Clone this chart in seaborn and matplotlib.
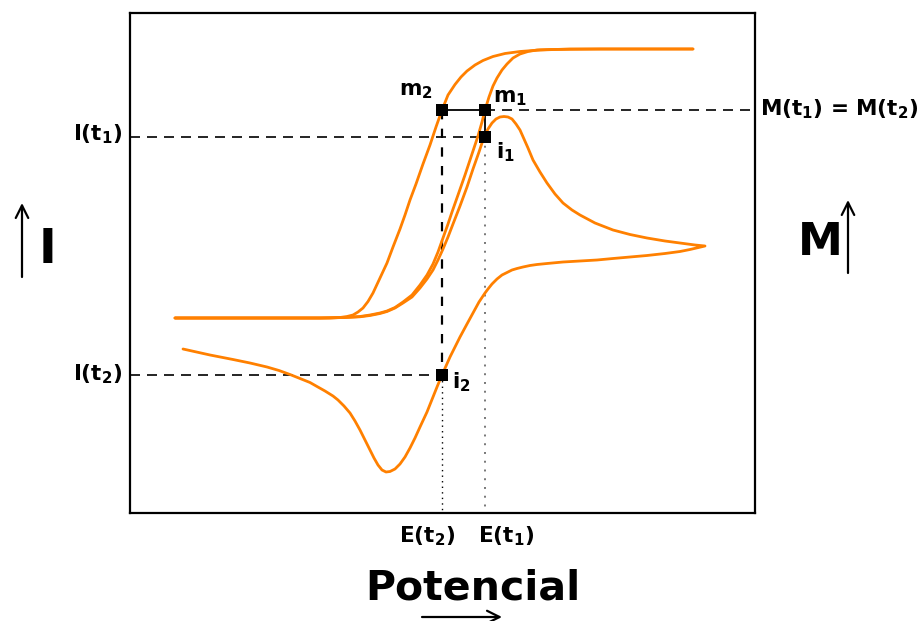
import matplotlib
matplotlib.use("Agg")
import matplotlib.pyplot as plt
import seaborn as sns

# ---------------- data (arbitrary units: potential E, current I, mass M) ----------------
sig_left_E = [45, 130, 200, 210, 217, 223, 228, 233, 238, 243,
              250, 257, 263, 270, 275, 280, 286, 293, 300, 306,
              312, 318, 325, 331, 337, 345, 353, 363, 375, 390,
              410, 440, 563]
sig_left_M = [195, 195, 195, 195.5, 196.5, 198, 201, 205, 211.5, 220,
              235, 250, 266, 284, 298, 313, 329, 349, 368, 386,
              403, 418, 428.5, 436, 442, 448, 452.5, 456.5, 459.5, 461.5,
              463, 464, 464]

sig_right_E = [45, 190, 215, 230, 240, 250, 257, 265, 273, 282,
               290, 297, 303, 308, 313, 318, 322, 328, 335, 341,
               348, 352, 355, 359, 363, 367, 372, 377, 383, 390,
               398, 407, 420, 470, 563]
sig_right_M = [195, 195, 195.5, 196.5, 198, 200, 202, 205.5, 211, 218,
               228, 238, 249, 261, 275, 289, 301, 318, 338, 356,
               377, 391, 403, 416, 427, 435, 443, 449, 455, 459,
               461.5, 463, 463.5, 464, 464]

cv_fwd_E = [45, 190, 215, 230, 240, 250, 257, 265, 273, 282,
            290, 297, 303, 308, 313, 318, 323, 330, 337, 343,
            349, 354, 358, 362, 366, 370, 374, 378, 382, 386,
            390, 394, 398, 403, 410, 417, 425, 433, 442, 450,
            465, 483, 500, 517, 535, 550, 565, 575]
cv_fwd_I = [195, 195, 195.5, 196.2, 197.5, 199.5, 201.5, 205, 210, 216,
            225, 234, 243, 253, 264, 276, 289, 307, 326, 344,
            361, 376, 384, 390, 394, 396, 396.5, 396, 394, 389,
            383, 374, 365, 353, 341, 330, 319, 310, 303, 298,
            290, 283, 278.5, 275, 272, 270, 268, 267]

cv_rev_E = [575, 560, 550, 535, 517, 500, 483, 467, 450, 433,
            417, 407, 400, 393, 387, 382, 377, 372, 367, 362,
            358, 355, 349, 343, 337, 330, 325, 320, 316, 312,
            307, 303, 297, 290, 285, 280, 275, 270, 265, 260,
            256, 252, 248, 244, 240, 235, 230, 225, 220, 214,
            208, 203, 195, 187, 180, 170, 160, 149, 137, 120,
            103, 80, 53]
cv_rev_I = [267, 263.5, 261.5, 259.5, 257.5, 256, 254.5, 253, 252, 251,
            249.5, 248.5, 247.5, 246, 244.5, 243, 240.5, 238, 234, 229,
            224, 220, 211, 200, 189, 176, 166, 156, 147, 138,
            126, 116, 101, 86, 75, 65, 56, 49, 44, 41.5,
            41, 43, 48, 55, 63, 73, 83, 92, 100, 107,
            113, 117, 122, 126.5, 130.5, 134.5, 138.5, 142.5, 146, 150,
            153.5, 158, 164]

E_t1, E_t2 = 355, 312
I_t1, I_t2 = 376, 138
M_t = 403

E_MAX, Y_MAX = 625, 500.5

# ---------------- style ----------------
sns.set_style("white")
plt.rcParams["font.family"] = ["DejaVu Sans"]
plt.rcParams["font.weight"] = "bold"
plt.rcParams["mathtext.fontset"] = "dejavusans"
plt.rcParams["mathtext.default"] = "bf"
plt.rcParams["text.color"] = "black"

ORANGE = "#FF8000"
W, H = 924, 621

fig = plt.figure(figsize=(W / 100, H / 100), dpi=100)
ax = fig.add_axes([130 / W, 1 - 513 / H, 625 / W, 500.5 / H])
ax.set_xlim(0, E_MAX)
ax.set_ylim(0, Y_MAX)

# curves
for xs, ys in [(sig_left_E, sig_left_M), (sig_right_E, sig_right_M),
               (cv_fwd_E + cv_rev_E[1:], cv_fwd_I + cv_rev_I[1:])]:
    sns.lineplot(x=xs, y=ys, sort=False, estimator=None, color=ORANGE, lw=2.0, ax=ax, zorder=3)

# guide lines
dash = dict(color="black", lw=1.2, dashes=(6, 4.2), zorder=2)
ax.plot([0, E_t1], [I_t1, I_t1], **dash)
ax.plot([0, E_t2], [I_t2, I_t2], **dash)
ax.plot([E_t1, E_MAX], [M_t, M_t], **dash)
ax.plot([E_t2, E_t2], [M_t, I_t2], color="black", lw=1.6, dashes=(4.2, 4.2), zorder=2)
ax.plot([E_t2, E_t1], [M_t, M_t], color="black", lw=1.3, zorder=2)
ax.plot([E_t1, E_t1], [M_t, I_t1], color="black", lw=1.3, zorder=2)
ax.plot([E_t2, E_t2], [I_t2, 0], color="black", lw=1.0, linestyle=(0, (1, 3)), zorder=2)
ax.plot([E_t1, E_t1], [I_t1, 0], color="#777777", lw=1.4, linestyle=(0, (1, 3.5)), zorder=2)

# markers
sns.scatterplot(x=[E_t2, E_t1, E_t1, E_t2], y=[M_t, M_t, I_t1, I_t2], marker="s", s=64,
                color="black", edgecolor="black", linewidth=0, zorder=6, ax=ax, legend=False)

ax.set_xticks([])
ax.set_yticks([])
ax.set_xlabel("")
ax.set_ylabel("")
for sp in ax.spines.values():
    sp.set_visible(True)
    sp.set_color("black")
    sp.set_linewidth(1.6)

FS = 15.5
def lab(txt, xy, xycoords, off, ha, va="baseline", fs=FS):
    ax.annotate(txt, xy=xy, xycoords=xycoords, xytext=off, textcoords="offset pixels",
                ha=ha, va=va, fontsize=fs, fontweight="bold", color="black",
                annotation_clip=False)

lab("I(t$_1$)", (0, I_t1), ("axes fraction", "data"), (-8, -3), "right")
lab("I(t$_2$)", (0, I_t2), ("axes fraction", "data"), (-8, -5), "right")
lab("M(t$_1$) = M(t$_2$)", (1, M_t), ("axes fraction", "data"), (5, -5), "left")
lab("m$_2$", (E_t2, M_t), "data", (-9, 15), "right")
lab("m$_1$", (E_t1, M_t), "data", (8, 8), "left")
lab("i$_1$", (E_t1, I_t1), "data", (11, -21), "left")
lab("i$_2$", (E_t2, I_t2), "data", (10, -13), "left")
lab("E(t$_2$)", (E_t2, 0), ("data", "axes fraction"), (-15, -29), "center")
lab("E(t$_1$)", (E_t1, 0), ("data", "axes fraction"), (21, -29), "center")

# axis titles with arrows (figure pixel coordinates)
def ftext(txt, x, y, fs, ha):
    ax.annotate(txt, xy=(x, H - y), xycoords="figure pixels", ha=ha, va="baseline",
                fontsize=fs, fontweight="bold", color="black", annotation_clip=False)

def farrow(x0, y0, x1, y1):
    ax.annotate("", xy=(x1, H - y1), xycoords="figure pixels", xytext=(x0, H - y0),
                textcoords="figure pixels", annotation_clip=False,
                arrowprops=dict(arrowstyle="->,head_length=0.6,head_width=0.3", color="black",
                                lw=1.6, shrinkA=0, shrinkB=0, mutation_scale=15))

ftext("Potencial", 473, 600, 29.5, "center")
farrow(422, 617, 502, 617)
ftext("I", 39, 263, 34.5, "left")
farrow(22, 277, 22, 203)
ftext("M", 798, 255, 32.5, "left")
farrow(848, 273, 848, 200)

fig.savefig("out.png", dpi=100)
